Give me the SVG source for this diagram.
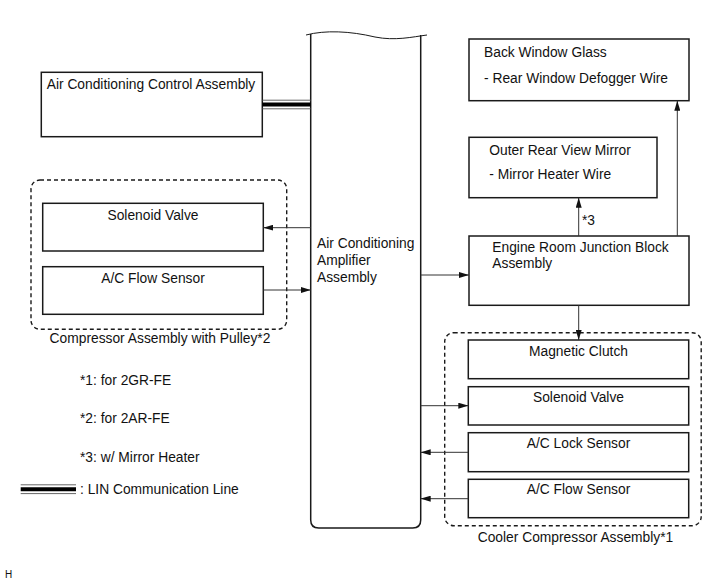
<svg xmlns="http://www.w3.org/2000/svg" width="713" height="581" viewBox="0 0 713 581">
<defs>
<style>
.box{fill:#fff;stroke:#1a1a1a;stroke-width:1.5}
.grp{fill:none;stroke:#1a1a1a;stroke-width:1.4;stroke-dasharray:4 3}
.t{font-family:"Liberation Sans",Arial,sans-serif;font-size:13.8px;fill:#111}
.c{text-anchor:middle}
.ln{fill:none;stroke:#333;stroke-width:1}
</style>
<marker id="ah" viewBox="0 0 10 6" refX="10" refY="3" markerWidth="10" markerHeight="6" markerUnits="userSpaceOnUse" orient="auto">
<path d="M0,0 L10,3 L0,6 Z" fill="#111"/>
</marker>
</defs>
<rect width="713" height="581" fill="#fff"/>

<g id="amplifier">
<path d="M310.7,34 L310.7,520 Q310.7,528 318.7,528 L412.7,528 Q420.7,528 420.7,520 L420.7,35" fill="#fff" stroke="#1a1a1a" stroke-width="1.5"/>
<path d="M306,35 C325,30 350,31 375,37 C395,41 412,37 427,35" fill="none" stroke="#1a1a1a" stroke-width="1"/>
<text class="t" x="317" y="248.3">Air Conditioning</text>
<text class="t" x="317" y="265">Amplifier</text>
<text class="t" x="317" y="281.7">Assembly</text>
</g>

<g id="ac-control">
<rect class="box" x="41.3" y="72.3" width="221" height="64.4"/>
<text class="t" x="46.7" y="89">Air Conditioning Control Assembly</text>
</g>

<g id="compressor-pulley">
<rect class="grp" x="31" y="180" width="255.7" height="149.3" rx="9"/>
<text class="t c" x="160" y="343">Compressor Assembly with Pulley*2</text>
</g>
<g id="solenoid-left">
<rect class="box" x="42.7" y="203.3" width="220.6" height="47.7"/>
<text class="t c" x="153" y="220">Solenoid Valve</text>
</g>
<g id="flow-left">
<rect class="box" x="42.7" y="266.7" width="220.6" height="47.6"/>
<text class="t c" x="153" y="283.3">A/C Flow Sensor</text>
</g>

<g id="back-window">
<rect class="box" x="469" y="39" width="220" height="61.7"/>
<text class="t" x="484" y="57.3">Back Window Glass</text>
<text class="t" x="484" y="83.3">- Rear Window Defogger Wire</text>
</g>
<g id="mirror">
<rect class="box" x="469" y="137.3" width="188" height="60.4"/>
<text class="t" x="489.3" y="155">Outer Rear View Mirror</text>
<text class="t" x="489.3" y="179.3">- Mirror Heater Wire</text>
</g>
<g id="erjb">
<rect class="box" x="469" y="236" width="220" height="69.3"/>
<text class="t" x="492.3" y="251.7">Engine Room Junction Block</text>
<text class="t" x="492.3" y="268.3">Assembly</text>
</g>

<g id="cooler-compressor">
<rect class="grp" x="444.7" y="332.7" width="256.5" height="193" rx="9"/>
<text class="t c" x="575.5" y="542">Cooler Compressor Assembly*1</text>
</g>
<g id="magnetic-clutch">
<rect class="box" x="468.3" y="340" width="220.4" height="38.7"/>
<text class="t c" x="578.5" y="356">Magnetic Clutch</text>
</g>
<g id="solenoid-right">
<rect class="box" x="468.3" y="386.7" width="220.4" height="38.3"/>
<text class="t c" x="578.5" y="401.7">Solenoid Valve</text>
</g>
<g id="lock-sensor">
<rect class="box" x="468.3" y="432.7" width="220.4" height="39"/>
<text class="t c" x="578.5" y="448.3">A/C Lock Sensor</text>
</g>
<g id="flow-right">
<rect class="box" x="468.3" y="479.3" width="220.4" height="38.4"/>
<text class="t c" x="578.5" y="494.3">A/C Flow Sensor</text>
</g>

<g id="connectors">
<line x1="262.3" y1="100.2" x2="310.7" y2="100.2" stroke="#555" stroke-width="0.9"/>
<line x1="262.3" y1="104.5" x2="310.7" y2="104.5" stroke="#000" stroke-width="4"/>
<line x1="262.3" y1="108.8" x2="310.7" y2="108.8" stroke="#555" stroke-width="0.9"/>
<line class="ln" x1="310.7" y1="227.7" x2="263.3" y2="227.7" marker-end="url(#ah)"/>
<line class="ln" x1="263.3" y1="290" x2="310.7" y2="290" marker-end="url(#ah)"/>
<line class="ln" x1="420.7" y1="275" x2="469" y2="275" marker-end="url(#ah)"/>
<line class="ln" x1="578.7" y1="236" x2="578.7" y2="197.7" marker-end="url(#ah)"/>
<text class="t" x="582" y="225">*3</text>
<line class="ln" x1="677.3" y1="236" x2="677.3" y2="100.7" marker-end="url(#ah)"/>
<line class="ln" x1="578.7" y1="305.3" x2="578.7" y2="340" marker-end="url(#ah)"/>
<line class="ln" x1="420.7" y1="405.7" x2="468.3" y2="405.7" marker-end="url(#ah)"/>
<line class="ln" x1="468.3" y1="452.3" x2="420.7" y2="452.3" marker-end="url(#ah)"/>
<line class="ln" x1="468.3" y1="498.7" x2="420.7" y2="498.7" marker-end="url(#ah)"/>
</g>

<g id="legend">
<text class="t" x="80" y="384.5">*1: for 2GR-FE</text>
<text class="t" x="80" y="423.3">*2: for 2AR-FE</text>
<text class="t" x="80" y="462">*3: w/ Mirror Heater</text>
<line x1="20.7" y1="484.8" x2="76" y2="484.8" stroke="#555" stroke-width="0.9"/>
<line x1="20.7" y1="489.2" x2="76" y2="489.2" stroke="#000" stroke-width="4"/>
<line x1="20.7" y1="493.6" x2="76" y2="493.6" stroke="#555" stroke-width="0.9"/>
<text class="t" x="80" y="494">: LIN Communication Line</text>
<text x="5" y="578" style="font-family:'Liberation Sans',Arial,sans-serif;font-size:10px;fill:#111">H</text>
</g>
</svg>
